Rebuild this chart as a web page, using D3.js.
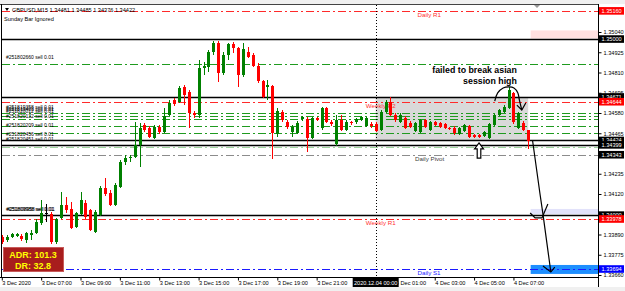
<!DOCTYPE html>
<html><head><meta charset="utf-8">
<script src="https://cdn.jsdelivr.net/npm/d3@7"></script>
<style>html,body{margin:0;padding:0;background:#fff;overflow:hidden}text{font-family:"Liberation Sans",Arial,sans-serif}</style>
</head><body><svg id="c" width="625" height="291"></svg>
<script>
// ---------- DATA ----------
const symbolTitle = "GBPUSD,M15  1.34481 1.34485 1.34376 1.34422";
const subTitle = "Sunday Bar Ignored";
const opens = [1.33876,1.33859,1.33876,1.33881,1.33881,1.33859,1.33887,1.33899,1.33955,1.34012,
1.34006,1.33847,1.33984,1.34058,1.34035,1.33933,1.34006,1.34069,1.34029,1.33904,
1.34001,1.34154,1.34126,1.34058,1.34160,1.34302,1.34324,1.34330,1.34398,1.34512,
1.34495,1.34438,1.34500,1.34472,1.34569,1.34654,1.34642,1.34728,1.34699,1.34580,
1.34569,1.34836,1.34841,1.34926,1.34978,1.34807,1.34909,1.34972,1.34949,1.34796,
1.34926,1.34909,1.34847,1.34762,1.34728,1.34733,1.34461,1.34586,1.34529,1.34472,
1.34466,1.34546,1.34546,1.34438,1.34552,1.34495,1.34608,1.34529,1.34404,1.34540,
1.34483,1.34529,1.34529,1.34540,1.34506,1.34518,1.34518,1.34483,1.34586,1.34642,
1.34569,1.34529,1.34552,1.34523,1.34478,1.34472,1.34540,1.34483,1.34529,1.34523,
1.34518,1.34495,1.34495,1.34461,1.34478,1.34506,1.34455,1.34455,1.34449,1.34438,
1.34512,1.34569,1.34586,1.34608,1.34694,1.34495,1.34523,1.34481];
const highs = [1.33887,1.33887,1.33899,1.33899,1.33893,1.33904,1.33916,1.33978,1.34086,1.34063,
1.34018,1.33984,1.34131,1.34103,1.34075,1.34018,1.34131,1.34086,1.34035,1.34029,
1.34165,1.34211,1.34143,1.34182,1.34313,1.34341,1.34341,1.34529,1.34523,1.34523,
1.34506,1.34512,1.34512,1.34608,1.34654,1.34665,1.34733,1.34739,1.34711,1.34591,
1.34881,1.34870,1.34938,1.34989,1.34989,1.34926,1.34978,1.34983,1.34955,1.34978,
1.34955,1.34921,1.34864,1.34767,1.34767,1.34739,1.34608,1.34597,1.34540,1.34512,
1.34535,1.34563,1.34557,1.34557,1.34557,1.34614,1.34614,1.34540,1.34569,1.34569,
1.34540,1.34535,1.34552,1.34563,1.34557,1.34529,1.34529,1.34597,1.34654,1.34671,
1.34580,1.34580,1.34563,1.34535,1.34529,1.34546,1.34546,1.34535,1.34535,1.34529,
1.34523,1.34500,1.34506,1.34500,1.34518,1.34512,1.34461,1.34461,1.34478,1.34523,
1.34574,1.34603,1.34625,1.34728,1.34699,1.34586,1.34535,1.34485];
const lows = [1.33836,1.33847,1.33870,1.33876,1.33853,1.33842,1.33859,1.33893,1.33944,1.33961,
1.33836,1.33836,1.33978,1.34012,1.33921,1.33927,1.34001,1.33978,1.33910,1.33899,
1.33995,1.34109,1.34052,1.34052,1.34154,1.34285,1.34302,1.34324,1.34273,1.34472,
1.34438,1.34432,1.34461,1.34466,1.34563,1.34620,1.34637,1.34625,1.34495,1.34552,
1.34552,1.34796,1.34813,1.34909,1.34756,1.34796,1.34881,1.34921,1.34728,1.34784,
1.34892,1.34841,1.34750,1.34665,1.34654,1.34319,1.34444,1.34529,1.34489,1.34444,
1.34461,1.34535,1.34359,1.34432,1.34535,1.34483,1.34523,1.34506,1.34393,1.34478,
1.34478,1.34512,1.34518,1.34535,1.34500,1.34495,1.34472,1.34478,1.34580,1.34563,
1.34529,1.34523,1.34489,1.34495,1.34472,1.34466,1.34495,1.34478,1.34506,1.34495,
1.34489,1.34483,1.34455,1.34455,1.34472,1.34438,1.34438,1.34438,1.34444,1.34432,
1.34506,1.34563,1.34580,1.34603,1.34518,1.34489,1.34478,1.34376];
const closes = [1.33847,1.33876,1.33893,1.33893,1.33864,1.33899,1.33899,1.33961,1.34012,1.34012,
1.33847,1.33978,1.34058,1.34029,1.33927,1.34012,1.34086,1.33989,1.33916,1.34018,
1.34154,1.34120,1.34058,1.34171,1.34302,1.34324,1.34330,1.34398,1.34495,1.34483,
1.34444,1.34500,1.34472,1.34563,1.34637,1.34631,1.34722,1.34682,1.34580,1.34569,
1.34836,1.34847,1.34926,1.34978,1.34807,1.34909,1.34972,1.34949,1.34796,1.34943,
1.34898,1.34847,1.34762,1.34671,1.34739,1.34466,1.34591,1.34540,1.34500,1.34500,
1.34523,1.34557,1.34438,1.34552,1.34540,1.34608,1.34529,1.34518,1.34540,1.34483,
1.34529,1.34523,1.34546,1.34557,1.34552,1.34506,1.34478,1.34586,1.34642,1.34569,
1.34540,1.34569,1.34495,1.34500,1.34523,1.34540,1.34500,1.34529,1.34512,1.34500,
1.34495,1.34489,1.34466,1.34495,1.34512,1.34444,1.34444,1.34444,1.34472,1.34518,
1.34569,1.34597,1.34614,1.34711,1.34529,1.34580,1.34483,1.34422];

const firstBarTime = new Date(2020, 11, 3, 5, 0);
const timeTickBars = [0, 8, 16, 24, 32, 40, 48, 56, 64, 80, 88, 96, 104];
const timeTickLabels = ["3 Dec 2020","3 Dec 07:00","3 Dec 09:00","3 Dec 11:00","3 Dec 13:00","3 Dec 15:00",
  "3 Dec 17:00","3 Dec 19:00","3 Dec 21:00","4 Dec 01:00","4 Dec 03:00","4 Dec 05:00","4 Dec 07:00"];
const dayStartBar = 76;
const dayStartLabel = "2020.12.04 00:00";
const priceTicks = [1.33660,1.33775,1.33890,1.34005,1.34120,1.34235,1.34350,1.34465,1.34580,1.34695,1.34810,1.34925,1.35040];

// pivot levels
const levelNames = ["Daily R1","Weekly R2","Daily Pivot","Weekly R1","Daily S1"];
const levelValues = [1.35160, 1.34644, 1.34343, 1.33978, 1.33694];
const levelLabelBars = [84.5, 74, 84, 74, 84.5];
// horizontal price lines
const solidLineValues = [1.35000, 1.34671, 1.34424, 1.34399, 1.34000];
const sellLineValues = [1.34858, 1.34578, 1.34563, 1.34546, 1.34506, 1.34466];
const closedLineValue = 1.34387;
// order labels
const orderLabels = ["#251802660 sell 0.01","#251809988 sell 0.01","#251808958 sell 0.01","#251819358 sell 0.01","#251819403 sell 0.01",
  "#251820012 sell 0.01","#251820132 sell 0.01","#251820209 sell 0.01","#251820456 sell 0.01","#251820451 sell 0.01"];
const orderLabelValues = [1.34881, 1.34018, 1.34020, 1.34597, 1.34588, 1.34574, 1.34546, 1.34495, 1.34444, 1.34413];
// zones
const zoneLows  = [1.35003, 1.34006, 1.33666];
const zoneHighs = [1.35049, 1.34035, 1.33717];
const zoneStartBar = 107.5;
// asian session box
const sessionStartBar = 76, sessionEndBar = 107;
const sessionHigh = 1.34671, sessionLow = 1.34424;
// right-axis price markers
const markerValues = [1.35160, 1.35000, 1.34671, 1.34644, 1.34424, 1.34399, 1.34343, 1.34000, 1.33978, 1.33694];
const markerKinds  = ["red","black","black","red","black","black","black","black","red","blue"];
// annotations
const noteLines = ["failed to break asian", "session high"];
const noteBar = 104.7, noteValues = [1.34825, 1.34762];
const adrLines = ["ADR: 101.3", "DR: 32.8"];
const arcBars   = [100.2,100.8,101.9,103.1,104.1,104.9,105.2,105.7];
const arcValues = [1.34648,1.34694,1.34722,1.34728,1.34722,1.34694,1.34654,1.34597];
const arcHeadBars = [104.7,105.7,106.5], arcHeadValues = [1.34625,1.34597,1.34637];
const downBars   = [107.9,109.4,110.0,111.6];
const downValues = [1.34421,1.34120,1.34006,1.33677];
const hookBars = [107.4,108.4,109.8,111.0], hookValues = [1.34012,1.33984,1.33984,1.34063];
const headBars = [110.0,111.6,112.4], headValues = [1.33711,1.33677,1.33705];
const upArrowBar = 97, upArrowTip = 1.34410, upArrowBase = 1.34324;

// ---------- DRAW ----------
const svg = d3.select("#c");
const W = 625, H = 291, L = 2, R = 598, T = 5, B = 277;
const y = d3.scaleLinear().domain([1.33660, 1.35040]).range([275, 32]);
const barTime = i => new Date(firstBarTime.getTime() + i * 15 * 60000);
const x = d3.scaleTime().domain([barTime(0), barTime(107)]).range([1.8, 528.2]);
const xb = i => x(barTime(i));
const GREEN = "#008000", RED = "#ff0000";

svg.append("rect").attr("width", W).attr("height", H).attr("fill", "#fff");
svg.append("rect").attr("width", W).attr("height", 4).attr("fill", "#f0f0f0");
svg.append("rect").attr("y", 287).attr("width", W).attr("height", 4).attr("fill", "#f0f0f0");

svg.append("clipPath").attr("id", "pc").append("rect").attr("x", L).attr("y", T).attr("width", R - L).attr("height", B - T);
const g = svg.append("g").attr("clip-path", "url(#pc)");

// zones
zoneLows.forEach((lo, k) => {
  g.append("rect").attr("x", xb(zoneStartBar)).attr("width", R - xb(zoneStartBar))
    .attr("y", y(zoneHighs[k])).attr("height", y(lo) - y(zoneHighs[k]))
    .attr("fill", ["#ffe0e0", "#e2e2fa", "#1e8fff"][k]);
});
// session box
g.append("rect").attr("x", xb(sessionStartBar)).attr("width", xb(sessionEndBar) - xb(sessionStartBar))
  .attr("y", y(sessionHigh)).attr("height", y(sessionLow) - y(sessionHigh)).attr("fill", "#d9d9d9");

const dd = "8,3,2,3";
const hline = (v, color, dash, w) => g.append("line").attr("x1", L).attr("x2", R)
  .attr("y1", Math.round(y(v)) + 0.5).attr("y2", Math.round(y(v)) + 0.5)
  .attr("stroke", color).attr("stroke-width", w || 1).attr("stroke-dasharray", dash || null);

sellLineValues.forEach(v => hline(v, "#1f9b1f", dd));
hline(closedLineValue, "#9ed49e", dd);
const levelColors = ["#ff2a2a", "#ff2a2a", "#8c8c8c", "#ff2a2a", "#1a1aff"];
levelValues.forEach((v, k) => hline(v, levelColors[k], dd));
solidLineValues.forEach(v => hline(v, "#000", null, 1.4));

// level labels
const levelTextColors = ["#ff3030", "#ff3030", "#404040", "#ff3030", "#1a1aff"];
levelNames.forEach((n, k) => {
  g.append("text").attr("x", xb(levelLabelBars[k])).attr("y", y(levelValues[k]) + 1)
    .attr("dominant-baseline", "hanging").attr("font-size", 6.2).attr("fill", levelTextColors[k]).text(n);
});
// order labels
orderLabels.forEach((t, k) => {
  g.append("text").attr("x", 6 + (k === 2 ? 1 : 0)).attr("y", y(orderLabelValues[k]) - 1)
    .attr("font-size", 5).attr("fill", "#000").text(t);
});

// vertical day separator
g.append("line").attr("x1", Math.round(xb(dayStartBar)) + 0.5).attr("x2", Math.round(xb(dayStartBar)) + 0.5)
  .attr("y1", T).attr("y2", B).attr("stroke", "#000").attr("stroke-dasharray", "1,2");

// candles
const bars = d3.range(opens.length);
const col = i => closes[i] > opens[i] ? GREEN : closes[i] < opens[i] ? RED : "#000";
const cg = g.append("g").attr("shape-rendering", "crispEdges");
cg.selectAll("line.w").data(bars).join("line").attr("class", "w")
  .attr("x1", i => Math.round(xb(i)) + 0.5).attr("x2", i => Math.round(xb(i)) + 0.5)
  .attr("y1", i => y(highs[i])).attr("y2", i => y(lows[i])).attr("stroke", col);
cg.selectAll("rect.b").data(bars).join("rect").attr("class", "b")
  .attr("x", i => Math.round(xb(i)) - 1).attr("width", 3)
  .attr("y", i => y(Math.max(opens[i], closes[i])))
  .attr("height", i => Math.max(1, Math.abs(y(opens[i]) - y(closes[i]))))
  .attr("fill", col);

// drawings
const lineGen = d3.line().x(d => xb(d[0])).y(d => y(d[1]));
const curveGen = d3.line().x(d => xb(d[0])).y(d => y(d[1])).curve(d3.curveCatmullRom);
const draw = (bs, vs, curved) => g.append("path").attr("d", (curved ? curveGen : lineGen)(bs.map((b, k) => [b, vs[k]])))
  .attr("fill", "none").attr("stroke", "#000").attr("stroke-width", 1.2);
draw(arcBars, arcValues, true);
draw(arcHeadBars, arcHeadValues);
draw(downBars, downValues);
draw(hookBars, hookValues);
draw(headBars, headValues);
// hollow up arrow
{
  const cx = xb(upArrowBar), ty = y(upArrowTip), by = y(upArrowBase), hy = ty + 6;
  g.append("path").attr("d", `M${cx},${ty} L${cx + 4.5},${hy} L${cx + 1.8},${hy} L${cx + 1.8},${by} L${cx - 1.8},${by} L${cx - 1.8},${hy} L${cx - 4.5},${hy} Z`)
    .attr("fill", "#fff").attr("stroke", "#000").attr("stroke-width", 1.2);
}
// note text
noteLines.forEach((t, k) => g.append("text").attr("x", xb(noteBar)).attr("y", y(noteValues[k]))
  .attr("dominant-baseline", "central").attr("text-anchor", "end").attr("font-weight", "bold")
  .attr("font-size", 8.8).attr("fill", "#000").text(t));

// ADR box
g.append("rect").attr("x", 3.5).attr("y", 247.5).attr("width", 60).attr("height", 24)
  .attr("fill", "#a81d1d").attr("stroke", "#c85a5a");
adrLines.forEach((t, k) => g.append("text").attr("x", 33).attr("y", 254.5 + k * 11)
  .attr("dominant-baseline", "central").attr("text-anchor", "middle").attr("font-weight", "bold")
  .attr("font-size", 9).attr("fill", "#ffff00").text(t));

// titles
svg.append("path").attr("d", "M5,8 L9,8 L7,11 Z").attr("fill", "#000");
svg.append("text").attr("x", 12).attr("y", 10).attr("dominant-baseline", "central").attr("font-size", 5.6).text(symbolTitle);
svg.append("text").attr("x", 4).attr("y", 18.5).attr("dominant-baseline", "central").attr("font-size", 5.6).text(subTitle);
svg.append("path").attr("d", "M534,5 L540,5 L537,8 Z").attr("fill", "#999");

// frame
svg.append("line").attr("x1", 0).attr("x2", R).attr("y1", 4.5).attr("y2", 4.5).attr("stroke", "#444");
svg.append("line").attr("x1", L - 0.5).attr("x2", L - 0.5).attr("y1", 4).attr("y2", B).attr("stroke", "#000");
svg.append("line").attr("x1", R + 0.5).attr("x2", R + 0.5).attr("y1", 4).attr("y2", B + 10).attr("stroke", "#000");

// price axis (tick labels hidden under a price marker are left blank, as on the platform)
const covered = v => markerValues.some(m => Math.abs(y(m) - y(v)) < 2.5);
const ay = svg.append("g").attr("transform", `translate(${R + 0.5},0)`)
  .call(d3.axisRight(y).tickValues(priceTicks).tickFormat(v => covered(v) ? "" : d3.format(".5f")(v)).tickSize(3).tickPadding(2));
ay.select(".domain").remove();
ay.selectAll("text").attr("font-size", 5.6).attr("font-family", "Liberation Sans, Arial").attr("fill", "#000");
const markerBg = {red: "#ff0000", black: "#000000", blue: "#0000ff"};
markerValues.forEach((v, k) => {
  const yy = y(v);
  svg.append("rect").attr("x", 599).attr("y", yy - 3.8).attr("width", 25).attr("height", 7.6).attr("fill", markerBg[markerKinds[k]]);
  svg.append("text").attr("x", 601.5).attr("y", yy).attr("dominant-baseline", "central")
    .attr("font-size", 5.6).attr("fill", "#fff").text(d3.format(".5f")(v));
});

// time axis
const ax = svg.append("g").attr("transform", `translate(0,${B + 0.5})`)
  .call(d3.axisBottom(x).tickValues(timeTickBars.map(barTime)).tickFormat((d, k) => timeTickLabels[k]).tickSize(3).tickPadding(1));
ax.select(".domain").attr("d", `M0,0H${R}`).attr("stroke", "#000");
ax.selectAll("text").attr("text-anchor", "start").attr("dx", "0").attr("font-size", 5.6)
  .attr("font-family", "Liberation Sans, Arial").attr("fill", "#000");
{
  const cx = xb(dayStartBar);
  svg.append("rect").attr("x", cx - 23).attr("y", 278).attr("width", 46).attr("height", 9).attr("fill", "#000");
  svg.append("text").attr("x", cx).attr("y", 282.8).attr("text-anchor", "middle").attr("dominant-baseline", "central")
    .attr("font-size", 5.6).attr("fill", "#fff").text(dayStartLabel);
}
</script></body></html>
